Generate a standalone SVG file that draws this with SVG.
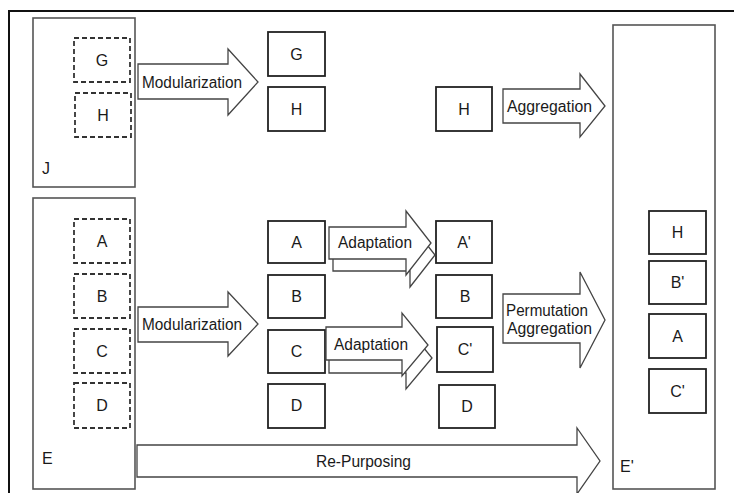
<svg xmlns="http://www.w3.org/2000/svg" width="734" height="493" viewBox="0 0 734 493">
<style>
text{font-family:"Liberation Sans",Arial,sans-serif;fill:#1a1a1a;}
.lbl{font-size:16px;text-anchor:middle;}
.alb{font-size:16px;}
.cont{fill:#fff;stroke:#555;stroke-width:1.6;}
.dash{fill:none;stroke:#333;stroke-width:1.8;stroke-dasharray:5 3;}
.box{fill:#fff;stroke:#222;stroke-width:1.8;}
.arr{fill:#fff;stroke:#444;stroke-width:1.3;stroke-linejoin:miter;}
</style>
<rect x="0" y="0" width="734" height="493" fill="#fff"/>
<path d="M9,493 V11 H734" fill="none" stroke="#111" stroke-width="2"/>

<g id="J">
<rect class="cont" x="33" y="18" width="102" height="169"/>
<text class="alb" x="42" y="174">J</text>
</g>
<g id="J_G">
<rect class="dash" x="74" y="38" width="56" height="44"/>
<text class="lbl" x="102" y="66">G</text>
</g>
<g id="J_H">
<rect class="dash" x="75" y="93" width="56" height="44"/>
<text class="lbl" x="103" y="121">H</text>
</g>

<g id="E">
<rect class="cont" x="33" y="198" width="102" height="291"/>
<text class="alb" x="42" y="464">E</text>
</g>
<g id="E_A"><rect class="dash" x="74" y="219" width="56" height="44"/><text class="lbl" x="102" y="247">A</text></g>
<g id="E_B"><rect class="dash" x="74" y="274" width="56" height="44"/><text class="lbl" x="102" y="302">B</text></g>
<g id="E_C"><rect class="dash" x="74" y="329" width="56" height="44"/><text class="lbl" x="102" y="357">C</text></g>
<g id="E_D"><rect class="dash" x="74" y="383" width="56" height="45"/><text class="lbl" x="102" y="411">D</text></g>

<g id="M_G"><rect class="box" x="268" y="32" width="57" height="44"/><text class="lbl" x="296.5" y="60">G</text></g>
<g id="M_H"><rect class="box" x="268" y="87" width="57" height="44"/><text class="lbl" x="296.5" y="115">H</text></g>
<g id="H2"><rect class="box" x="436" y="87" width="56" height="44"/><text class="lbl" x="464" y="115">H</text></g>

<g id="M_A"><rect class="box" x="268" y="221" width="57" height="42"/><text class="lbl" x="296.5" y="248">A</text></g>
<g id="M_B"><rect class="box" x="268" y="275" width="57" height="43"/><text class="lbl" x="296.5" y="302">B</text></g>
<g id="M_C"><rect class="box" x="268" y="330" width="57" height="43"/><text class="lbl" x="296.5" y="357">C</text></g>
<g id="M_D"><rect class="box" x="268" y="384" width="57" height="44"/><text class="lbl" x="296.5" y="411">D</text></g>

<g id="R_A"><rect class="box" x="436" y="221" width="56" height="42"/><text class="lbl" x="464" y="248">A'</text></g>
<g id="R_B"><rect class="box" x="436" y="275" width="56" height="43"/><text class="lbl" x="465" y="302">B</text></g>
<g id="R_C"><rect class="box" x="437" y="327" width="56" height="45"/><text class="lbl" x="465" y="355">C'</text></g>
<g id="R_D"><rect class="box" x="439" y="385" width="56" height="43"/><text class="lbl" x="467" y="412">D</text></g>

<g id="Eprime">
<rect class="cont" x="613" y="25" width="102" height="464"/>
<text class="alb" x="620" y="472">E'</text>
</g>
<g id="P_H"><rect class="box" x="649" y="211" width="57" height="43"/><text class="lbl" x="677.5" y="238">H</text></g>
<g id="P_B"><rect class="box" x="649" y="261" width="57" height="43"/><text class="lbl" x="677.5" y="288">B'</text></g>
<g id="P_A"><rect class="box" x="649" y="314" width="57" height="44"/><text class="lbl" x="677.5" y="342">A</text></g>
<g id="P_C"><rect class="box" x="649" y="369" width="57" height="44"/><text class="lbl" x="677.5" y="397">C'</text></g>

<g id="connectors">
<polygon class="arr" points="138,64 228,64 228,49 258,82 228,115 228,99 138,99"/>
<text class="alb" x="142" y="88" textLength="100" lengthAdjust="spacingAndGlyphs">Modularization</text>

<polygon class="arr" points="138,307 228,307 228,292 258,324 228,356 228,342 138,342"/>
<text class="alb" x="142" y="330" textLength="100" lengthAdjust="spacingAndGlyphs">Modularization</text>

<polygon class="arr" points="503,89 580,89 580,74 605,106 580,137 580,123 503,123"/>
<text class="alb" x="507" y="112" textLength="85" lengthAdjust="spacingAndGlyphs">Aggregation</text>

<polygon class="arr" points="503,294 580,294 580,272 605,320 580,368 580,343 503,343"/>
<text class="alb" x="506" y="316" textLength="82" lengthAdjust="spacingAndGlyphs">Permutation</text>
<text class="alb" x="507" y="334" textLength="85" lengthAdjust="spacingAndGlyphs">Aggregation</text>

<polygon class="arr" points="333,239 410,239 410,223 435,255 410,287 410,271 333,271"/>
<polygon class="arr" points="329,227 406,227 406,211 431,243 406,275 406,259 329,259"/>
<text class="alb" x="338" y="248" textLength="74" lengthAdjust="spacingAndGlyphs">Adaptation</text>

<polygon class="arr" points="329,340 406,340 406,326 432,358 406,389 406,373 329,373"/>
<polygon class="arr" points="326,327 402,327 402,313 428,345 402,376 402,360 326,360"/>
<text class="alb" x="334" y="350" textLength="74" lengthAdjust="spacingAndGlyphs">Adaptation</text>

<polygon class="arr" points="137,445 577,445 577,428 600,461 577,494 577,477 137,477"/>
<text class="alb" x="316" y="467" textLength="95" lengthAdjust="spacingAndGlyphs">Re-Purposing</text>
</g>
</svg>
